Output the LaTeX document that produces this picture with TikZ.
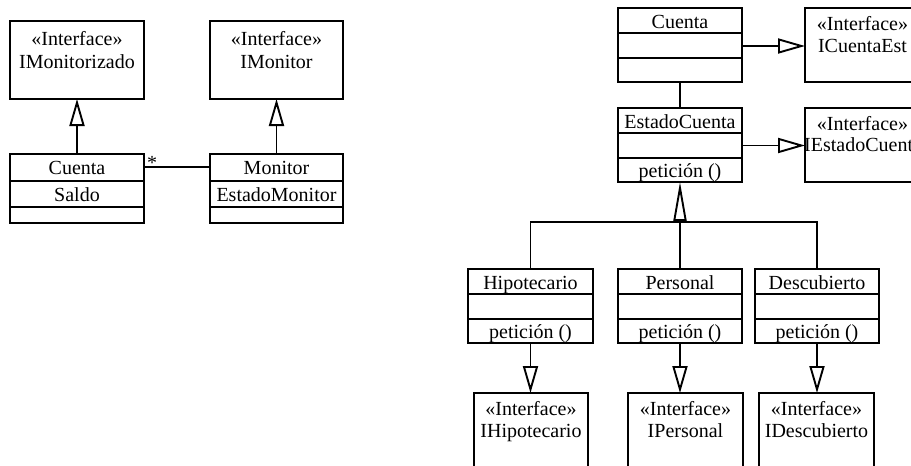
\documentclass[tikz,border=0pt]{standalone}
\usepackage{fontspec}
\setmainfont{Liberation Serif}
\usetikzlibrary{arrows.meta}
\tikzset{
  ln/.style={line width=1.9pt},
  box/.style={draw, line width=1.9pt, inner sep=0pt, outer sep=0pt, anchor=north west},
  txt/.style={inner sep=0pt, anchor=base},
  impl/.style={ln, -{Triangle[open, length=27pt, width=15pt]}},
  gen/.style={ln, -{Triangle[open, length=39pt, width=13pt]}}
}
\newcommand\umlcls[7]{%
  \node[box, minimum width=#4, minimum height=#7-#3] (#1) at (#2,#3) {};
  \draw[ln] (#2,#5) -- ++(#4,0);
  \draw[ln] (#2,#6) -- ++(#4,0);}
\newcommand\umlint[5]{%
  \node[box, minimum width=#4, minimum height=#5] (#1) at (#2,#3) {};}
\begin{document}
\begin{tikzpicture}[x=1pt, y=-1pt, font=\fontsize{20}{24}\selectfont]
\useasboundingbox (0,0) rectangle (911,466);
\clip (0,0) rectangle (911,466);

% ---------- left part ----------
\umlint{imz}{10}{21}{134}{78}
\node[txt] (imzS) at (77,45) {«Interface»};
\node[txt] (imzN) at (77,68) {IMonitorizado};

\umlint{imr}{210}{21}{133}{78}
\node[txt] (imrS) at (276.5,45) {«Interface»};
\node[txt] (imrN) at (276.5,68) {IMonitor};

\umlcls{ctaL}{10}{154}{134}{181}{207}{223}
\node[txt] (ctaLN) at (77,174.5) {Cuenta};
\node[txt] (ctaLA) at (77,201) {Saldo};

\umlcls{mon}{210}{154}{133}{181}{207}{223}
\node[txt] (monN) at (276.5,174.5) {Monitor};
\node[txt] (monA) at (276.5,201) {EstadoMonitor};

\draw[impl] (ctaL.north) -- (imz.south);
\draw[impl] (mon.north) -- (imr.south);
\draw[ln] (ctaL.east |- 0,167) -- (mon.west |- 0,167);
\node[txt] (star) at (152,169) {*};

% ---------- right part ----------
\umlcls{ctaR}{618}{8}{124}{33}{58}{82}
\node[txt] (ctaRN) at (680,28) {Cuenta};

\umlint{icest}{805}{8}{115}{74}
\node[txt] (icestS) at (862.5,30) {«Interface»};
\node[txt] (icestN) at (862.5,52) {ICuentaEst};

\umlcls{estc}{618}{108}{124}{133}{158}{182}
\node[txt] (estcN) at (680,128) {EstadoCuenta};
\node[txt] (estcO) at (680,177) {petición ()};

\umlint{iestc}{805}{108}{115}{74}
\node[txt] (iestcS) at (862.5,130) {«Interface»};
\node[txt, anchor=base west] (iestcN) at (804,151) {IEstadoCuenta};

\draw[impl] (ctaR.east |- 0,46) -- (icest.west |- 0,46);
\draw[impl] (estc.east |- 0,145.5) -- (iestc.west |- 0,145.5);
\draw[ln] (ctaR.south) -- (estc.north);

\umlcls{hipo}{468}{269}{125}{294}{319}{343}
\node[txt] (hipoN) at (530.5,289) {Hipotecario};
\node[txt] (hipoO) at (530.5,338) {petición ()};

\umlcls{pers}{618}{269}{124}{294}{319}{343}
\node[txt] (persN) at (680,289) {Personal};
\node[txt] (persO) at (680,338) {petición ()};

\umlcls{desc}{755}{269}{124}{294}{319}{343}
\node[txt] (descN) at (817,289) {Descubierto};
\node[txt] (descO) at (817,338) {petición ()};

\coordinate (gb) at (680,222);
\draw[ln] (hipo.north) |- (gb);
\draw[ln] (desc.north) |- (gb);
\draw[ln] (pers.north) -- (gb);
\draw[gen] (gb) -- (estc.south);

\umlint{ihipo}{474}{393}{114}{74}
\node[txt] (ihipoS) at (531,415) {«Interface»};
\node[txt] (ihipoN) at (531,437) {IHipotecario};

\umlint{ipers}{628}{393}{115}{74}
\node[txt] (ipersS) at (685.5,415) {«Interface»};
\node[txt] (ipersN) at (685.5,437) {IPersonal};

\umlint{idesc}{759}{393}{115}{74}
\node[txt] (idescS) at (816.5,415) {«Interface»};
\node[txt] (idescN) at (816.5,437) {IDescubierto};

\draw[impl] (hipo.south) -- (hipo.south |- ihipo.north);
\draw[impl] (pers.south) -- (pers.south |- ipers.north);
\draw[impl] (desc.south) -- (desc.south |- idesc.north);
\end{tikzpicture}
\end{document}
